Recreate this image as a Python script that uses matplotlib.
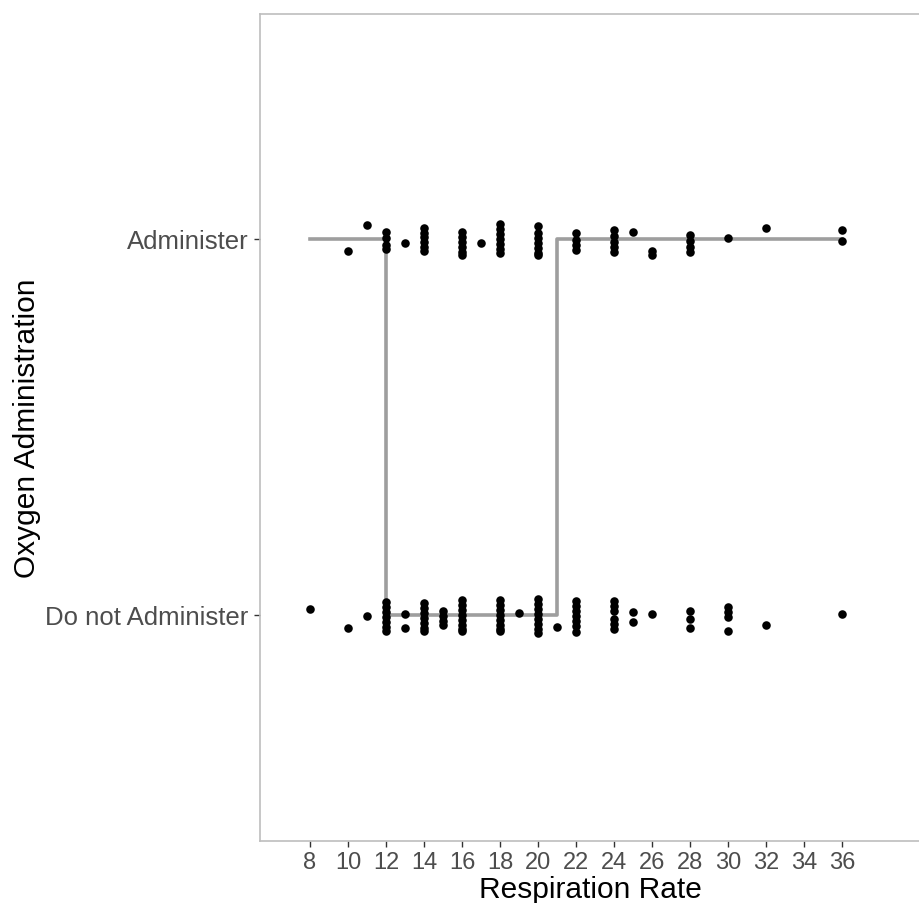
import matplotlib.pyplot as plt

plt.rcParams["font.family"] = ["Liberation Sans", "DejaVu Sans"]

# fitted step: administer below 12 and above 21
step_x = [8, 12, 12, 21, 21, 36]
step_y = [1, 1, 0, 0, 1, 1]

# observed cases, oxygen outcome jittered vertically (1 = administer, 0 = not)
resp_admin = [10, 11, 12, 12, 12, 12, 13,
              14, 14, 14, 14, 14, 14,
              16, 16, 16, 16, 16, 16, 17,
              18, 18, 18, 18, 18, 18, 18,
              20, 20, 20, 20, 20, 20, 20,
              22, 22, 22, 22,
              24, 24, 24, 24, 24, 25, 26, 26,
              28, 28, 28, 28, 30, 32, 36, 36]
oxy_admin = [0.968, 1.037, 1.019, 1.003, 0.984, 0.973, 0.989,
             1.029, 1.016, 1.005, 0.992, 0.979, 0.968,
             1.019, 1.005, 0.992, 0.979, 0.965, 0.957, 0.989,
             1.040, 1.027, 1.013, 1.000, 0.987, 0.973, 0.963,
             1.035, 1.016, 1.003, 0.989, 0.976, 0.963, 0.957,
             1.016, 0.997, 0.984, 0.971,
             1.024, 1.008, 0.992, 0.979, 0.965, 1.019, 0.968, 0.957,
             1.011, 0.995, 0.979, 0.965, 1.003, 1.029, 1.024, 0.995]

resp_none = [8, 10, 11,
             12, 12, 12, 12, 12, 12, 12, 13, 13,
             14, 14, 14, 14, 14, 14, 14,
             15, 15, 15, 15,
             16, 16, 16, 16, 16, 16, 16, 16,
             18, 18, 18, 18, 18, 18, 18, 18, 19,
             20, 20, 20, 20, 20, 20, 20, 20, 21,
             22, 22, 22, 22, 22, 22, 22,
             24, 24, 24, 24, 24, 24, 25, 25, 26,
             28, 28, 28, 30, 30, 30, 30, 32, 36]
oxy_none = [0.016, -0.035, -0.003,
            0.035, 0.021, 0.008, -0.005, -0.019, -0.032, -0.043, 0.003, -0.035,
            0.032, 0.019, 0.005, -0.008, -0.021, -0.035, -0.043,
            0.011, -0.003, -0.016, -0.027,
            0.040, 0.027, 0.013, 0.0, -0.013, -0.027, -0.037, -0.043,
            0.040, 0.027, 0.013, 0.0, -0.013, -0.027, -0.037, -0.043, 0.005,
            0.043, 0.029, 0.016, 0.003, -0.011, -0.024, -0.037, -0.048, -0.032,
            0.037, 0.024, 0.011, -0.003, -0.016, -0.029, -0.045,
            0.037, 0.024, 0.011, -0.011, -0.024, -0.037, 0.008, -0.019, 0.003,
            0.011, -0.011, -0.035, 0.021, 0.008, -0.005, -0.043, -0.027, 0.003]

x_ticks = list(range(8, 37, 2))
y_ticks = [0, 1]
y_labels = ["Do not Administer", "Administer"]

fig = plt.figure(figsize=(9.2, 9.04), dpi=100)
ax = fig.add_axes([0.2826, 0.0686, 0.7174, 0.9148])

ax.plot(step_x, step_y, color="#9e9e9e", lw=2.6, zorder=2)
ax.scatter(resp_admin + resp_none, oxy_admin + oxy_none,
           s=38, color="black", linewidths=0, zorder=3)

ax.set_xlim(5.368, 40.105)
ax.set_ylim(-0.601, 1.598)
ax.set_xticks(x_ticks)
ax.set_yticks(y_ticks)
ax.set_yticklabels(y_labels)

for side in ["left", "top", "bottom"]:
    ax.spines[side].set_color("#bebebe")
    ax.spines[side].set_linewidth(1.2)
ax.spines["right"].set_visible(False)

ax.tick_params(axis="both", colors="#333333", length=4.5, width=1.0,
               labelcolor="#4d4d4d")
ax.tick_params(axis="x", labelsize=17, pad=3)
ax.tick_params(axis="y", labelsize=18.5, pad=4)

ax.set_xlabel("Respiration Rate", fontsize=21.5, color="black", labelpad=1)
ax.set_ylabel("Oxygen Administration", fontsize=21.5, color="black", labelpad=3)

fig.savefig("out.png", dpi=100)
